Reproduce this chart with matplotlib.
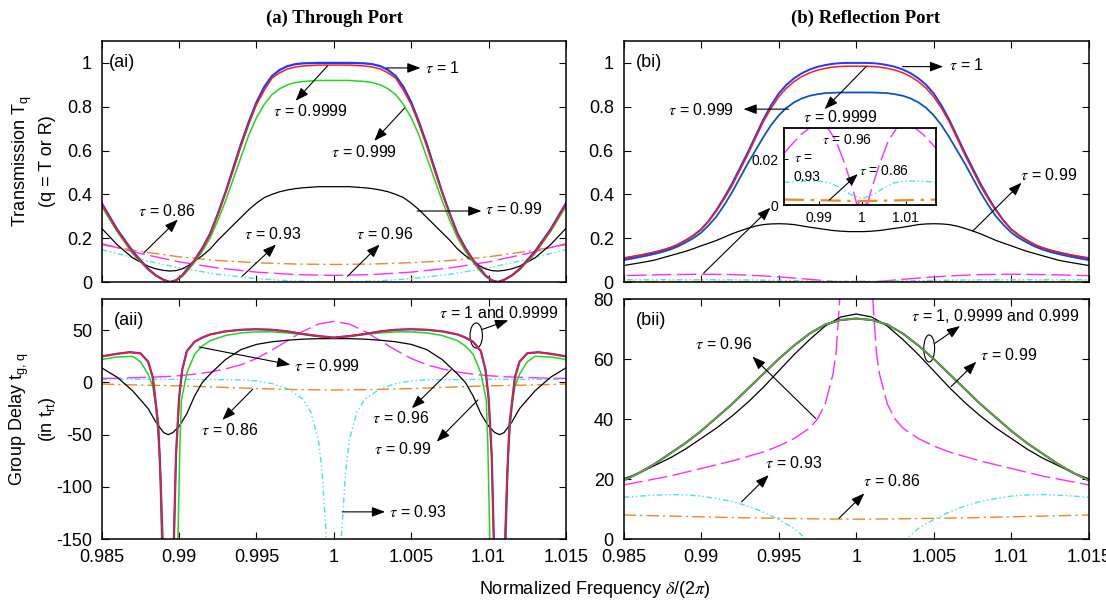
import numpy as np
import matplotlib
matplotlib.use('Agg')
import matplotlib.pyplot as plt
from matplotlib.patches import Ellipse
from matplotlib.ticker import FuncFormatter

plt.rcParams['font.family'] = ['Liberation Sans', 'DejaVu Sans']
plt.rcParams['mathtext.fontset'] = 'stix'

# ---------------- data ----------------
# (ai) through port transmission
ai_x = [0.985, 0.986, 0.987, 0.988, 0.9885, 0.989, 0.9894, 0.9898, 0.9902, 0.9906, 0.991, 0.9915,
        0.992, 0.9925, 0.993, 0.9935, 0.994, 0.9945, 0.995, 0.9955, 0.996, 0.9965, 0.997, 0.9975,
        0.998, 0.999, 1.0, 1.001, 1.002, 1.0025, 1.003, 1.0035, 1.004, 1.0045, 1.005, 1.0055, 1.006,
        1.0065, 1.007, 1.0075, 1.008, 1.0085, 1.009, 1.0094, 1.0098, 1.0102, 1.0106, 1.011, 1.0115,
        1.012, 1.013, 1.014, 1.015]
ai_t1 = [0.36, 0.24, 0.14, 0.06, 0.03, 0.01, 0.0, 0.008, 0.03, 0.065, 0.10, 0.155, 0.22, 0.31, 0.41,
         0.52, 0.63, 0.73, 0.82, 0.89, 0.94, 0.968, 0.985, 0.994, 0.998, 1.0, 1.0, 1.0, 0.998, 0.994,
         0.985, 0.968, 0.94, 0.89, 0.82, 0.73, 0.63, 0.52, 0.41, 0.31, 0.22, 0.155, 0.10, 0.065,
         0.03, 0.008, 0.0, 0.01, 0.03, 0.06, 0.14, 0.24, 0.36]
ai_t9999 = [0.355, 0.235, 0.135, 0.058, 0.028, 0.009, 0.0, 0.008, 0.029, 0.063, 0.098, 0.15, 0.215,
            0.305, 0.405, 0.51, 0.62, 0.72, 0.81, 0.875, 0.93, 0.955, 0.972, 0.981, 0.986, 0.99,
            0.99, 0.99, 0.986, 0.981, 0.972, 0.955, 0.93, 0.875, 0.81, 0.72, 0.62, 0.51, 0.405,
            0.305, 0.215, 0.15, 0.098, 0.063, 0.029, 0.008, 0.0, 0.009, 0.028, 0.058, 0.135, 0.235,
            0.355]
ai_t999 = [0.345, 0.23, 0.13, 0.055, 0.03, 0.01, 0.0, 0.007, 0.025, 0.055, 0.09, 0.14, 0.20, 0.28,
           0.37, 0.47, 0.57, 0.67, 0.75, 0.81, 0.855, 0.882, 0.90, 0.91, 0.915, 0.92, 0.92, 0.92,
           0.915, 0.91, 0.90, 0.882, 0.855, 0.81, 0.75, 0.67, 0.57, 0.47, 0.37, 0.28, 0.20, 0.14,
           0.09, 0.055, 0.025, 0.007, 0.0, 0.01, 0.03, 0.055, 0.13, 0.23, 0.345]
ai_t99 = [0.245, 0.17, 0.11, 0.072, 0.06, 0.053, 0.05, 0.052, 0.06, 0.075, 0.095, 0.12, 0.15, 0.19,
          0.225, 0.26, 0.295, 0.33, 0.36, 0.385, 0.40, 0.412, 0.42, 0.426, 0.43, 0.435, 0.435,
          0.435, 0.43, 0.426, 0.42, 0.412, 0.40, 0.385, 0.36, 0.33, 0.295, 0.26, 0.225, 0.19, 0.15,
          0.12, 0.095, 0.075, 0.06, 0.052, 0.05, 0.053, 0.06, 0.072, 0.11, 0.17, 0.245]
low_x = [0.985, 0.9875, 0.99, 0.9925, 0.995, 0.9975, 1.0, 1.0025, 1.005, 1.0075, 1.01, 1.0125, 1.015]
ai_t86 = [0.17, 0.14, 0.115, 0.098, 0.088, 0.082, 0.08, 0.082, 0.088, 0.098, 0.115, 0.14, 0.17]
ai_t96 = [0.175, 0.13, 0.092, 0.064, 0.045, 0.034, 0.03, 0.034, 0.045, 0.064, 0.092, 0.13, 0.175]
ai_t93 = [0.148, 0.103, 0.065, 0.035, 0.015, 0.004, 0.0, 0.004, 0.015, 0.035, 0.065, 0.103, 0.148]

# (bi) reflection port transmission
bi_x = np.linspace(0.985, 1.015, 61)
bi_t1 = [0.107, 0.113, 0.12, 0.127, 0.135, 0.144, 0.155, 0.17, 0.19, 0.212, 0.24, 0.28, 0.33, 0.387,
         0.45, 0.52, 0.59, 0.665, 0.74, 0.805, 0.86, 0.90, 0.93, 0.953, 0.97, 0.982, 0.99, 0.996,
         0.999, 1.0, 1.0, 1.0, 0.999, 0.996, 0.99, 0.982, 0.97, 0.953, 0.93, 0.90, 0.86, 0.805, 0.74,
         0.665, 0.59, 0.52, 0.45, 0.387, 0.33, 0.28, 0.24, 0.212, 0.19, 0.17, 0.155, 0.144, 0.135,
         0.127, 0.12, 0.113, 0.107]
bi_t9999 = [0.11, 0.116, 0.122, 0.129, 0.137, 0.146, 0.157, 0.171, 0.19, 0.212, 0.24, 0.278, 0.325,
            0.38, 0.44, 0.51, 0.58, 0.655, 0.73, 0.792, 0.845, 0.885, 0.915, 0.938, 0.955, 0.967,
            0.975, 0.981, 0.984, 0.985, 0.985, 0.985, 0.984, 0.981, 0.975, 0.967, 0.955, 0.938,
            0.915, 0.885, 0.845, 0.792, 0.73, 0.655, 0.58, 0.51, 0.44, 0.38, 0.325, 0.278, 0.24,
            0.212, 0.19, 0.171, 0.157, 0.146, 0.137, 0.129, 0.122, 0.116, 0.11]
bi_t999 = [0.10, 0.106, 0.113, 0.12, 0.128, 0.137, 0.148, 0.162, 0.18, 0.2, 0.225, 0.26, 0.30, 0.352,
           0.41, 0.475, 0.54, 0.60, 0.66, 0.715, 0.76, 0.795, 0.82, 0.838, 0.85, 0.857, 0.862,
           0.864, 0.865, 0.865, 0.865, 0.865, 0.865, 0.864, 0.862, 0.857, 0.85, 0.838, 0.82, 0.795,
           0.76, 0.715, 0.66, 0.60, 0.54, 0.475, 0.41, 0.352, 0.30, 0.26, 0.225, 0.2, 0.18, 0.162,
           0.148, 0.137, 0.128, 0.12, 0.113, 0.106, 0.10]
bi_t99 = [0.075, 0.081, 0.087, 0.093, 0.10, 0.11, 0.12, 0.13, 0.14, 0.152, 0.165, 0.177, 0.19,
          0.205, 0.22, 0.233, 0.245, 0.255, 0.262, 0.265, 0.266, 0.265, 0.262, 0.256, 0.25, 0.245,
          0.24, 0.235, 0.232, 0.23, 0.23, 0.23, 0.232, 0.235, 0.24, 0.245, 0.25, 0.256, 0.262,
          0.265, 0.266, 0.265, 0.262, 0.255, 0.245, 0.233, 0.22, 0.205, 0.19, 0.177, 0.165, 0.152,
          0.14, 0.13, 0.12, 0.11, 0.10, 0.093, 0.087, 0.081, 0.075]
bi96_x = [0.982, 0.984, 0.986, 0.988, 0.990, 0.992, 0.994, 0.996, 0.998, 0.9988, 0.9994, 1.0, 1.0006,
          1.0012, 1.002, 1.004, 1.006, 1.008, 1.010, 1.012, 1.014, 1.016, 1.018]
bi_t96 = [0.0227, 0.027, 0.031, 0.034, 0.0355, 0.034, 0.028, 0.018, 0.006, 0.0, 0.0015, 0.002, 0.0015,
          0.0, 0.006, 0.018, 0.028, 0.034, 0.0355, 0.034, 0.031, 0.027, 0.0227]
bilow_x = [0.982, 0.985, 0.9875, 0.99, 0.9925, 0.995, 0.9975, 1.0, 1.0025, 1.005, 1.0075, 1.01,
           1.0125, 1.015, 1.018]
bi_t93 = [0.0099, 0.0103, 0.0105, 0.0105, 0.0098, 0.0075, 0.0045, 0.0028, 0.0045, 0.0075, 0.0098,
          0.0105, 0.0105, 0.0103, 0.0099]
bi_t86 = [0.0024, 0.0023, 0.0022, 0.0021, 0.0020, 0.0019, 0.0018, 0.0018, 0.0018, 0.0019, 0.0020,
          0.0021, 0.0022, 0.0023, 0.0024]

# (aii) through port group delay
aii1_x = [0.985, 0.986, 0.9868, 0.9875, 0.988, 0.9883, 0.98865, 0.9888, 0.98895, 0.9891, 0.9893,
          0.9895, 0.98965, 0.9898, 0.990, 0.9902, 0.9905, 0.991, 0.9915, 0.992, 0.993, 0.994, 0.995,
          0.996, 0.997, 0.998, 0.999, 1.0, 1.001, 1.002, 1.003, 1.004, 1.005, 1.006, 1.007, 1.008,
          1.0085, 1.009, 1.0095, 1.0098, 1.010, 1.0102, 1.01035, 1.0105, 1.0107, 1.0109, 1.01105,
          1.0112, 1.01135, 1.0117, 1.012, 1.0125, 1.0132, 1.014, 1.015]
aii_g9999 = [25, 27.5, 29, 28, 20, 5, -40, -90, -160, -400, -900, -400, -160, -70, -15, 12, 30, 39,
             43, 46, 49, 50.5, 51, 50.5, 49, 46.5, 44.5, 43, 44.5, 46.5, 49, 50.5, 51, 50.5, 49, 46,
             43, 39, 30, 12, -15, -70, -160, -400, -900, -400, -160, -90, -40, 5, 20, 28, 29, 27.5, 25]
aii999_x = [0.985, 0.986, 0.987, 0.9875, 0.988, 0.9883, 0.9885, 0.98875, 0.9889, 0.9894, 0.9899,
            0.99005, 0.99015, 0.9905, 0.991, 0.9915, 0.992, 0.993, 0.994, 0.995, 0.996, 0.997, 0.998,
            0.999, 1.0, 1.001, 1.002, 1.003, 1.004, 1.005, 1.006, 1.007, 1.008, 1.0085, 1.009, 1.0095,
            1.00985, 1.00995, 1.0101, 1.0106, 1.0111, 1.01125, 1.0115, 1.0117, 1.012, 1.0125, 1.013,
            1.014, 1.015]
aii_g999 = [22, 24.5, 25, 20, 8, -4, -23, -70, -170, -500, -170, -60, -17, 9, 27, 35, 40, 45, 47.5,
            48.5, 48.5, 47.5, 46, 44, 43, 44, 46, 47.5, 48.5, 48.5, 47.5, 45, 40, 35, 27, 9, -17, -60,
            -170, -500, -170, -70, -23, -4, 8, 20, 25, 24.5, 22]
aii99_x = [0.985, 0.986, 0.987, 0.988, 0.9885, 0.989, 0.9893, 0.9896, 0.990, 0.9905, 0.991, 0.9915,
           0.992, 0.993, 0.994, 0.995, 0.996, 0.997, 0.998, 0.999, 1.0, 1.001, 1.002, 1.003, 1.004,
           1.005, 1.006, 1.007, 1.008, 1.0085, 1.009, 1.0095, 1.010, 1.0104, 1.0107, 1.011, 1.0115,
           1.012, 1.013, 1.014, 1.015]
aii_g99 = [14, 5, -8, -25, -38, -48, -50, -48, -42, -30, -13, 0, 8, 22, 31.5, 36.5, 39, 40.5, 41.5,
           42, 42, 42, 41.5, 40.5, 39, 36.5, 31.5, 22, 8, 0, -13, -30, -42, -48, -50, -48, -38, -25,
           -8, 5, 14]
aii96_x = np.linspace(0.985, 1.015, 31)
aii_g96 = [4, 4, 4.5, 5, 5.5, 6.5, 8, 10, 13, 17, 23, 31, 40, 49, 56, 58.5, 56, 49, 40, 31, 23, 17,
           13, 10, 8, 6.5, 5.5, 5, 4.5, 4, 4]
aii93_x = [0.985, 0.99, 0.994, 0.995, 0.996, 0.997, 0.998, 0.9985, 0.999, 0.99925, 0.9995, 0.9997, 1.0,
           1.0003, 1.0005, 1.00075, 1.001, 1.0015, 1.002, 1.003, 1.004, 1.005, 1.006, 1.01, 1.015]
aii_g93 = [3, 3, 2.5, 1.5, -1, -6, -16, -28, -55, -87, -145, -260, -600, -260, -145, -87, -55, -28,
           -16, -6, -1, 1.5, 2.5, 3, 3]
aii_g86 = [-1.5, -2.5, -3.2, -4.5, -5.8, -6.8, -7.2, -6.8, -5.8, -4.5, -3.2, -2.5, -1.5]

# (bii) reflection port group delay
bii_x = np.linspace(0.985, 1.015, 31)
bii_g1 = [19.5, 22, 25, 28.5, 32, 36, 40.5, 45, 50, 55, 60, 64.5, 68.5, 71.5, 73, 73.5, 73, 71.5,
          68.5, 64.5, 60, 55, 50, 45, 40.5, 36, 32, 28.5, 25, 22, 19.5]
bii_g99 = [20, 22, 24.5, 27, 30, 33.5, 37, 41, 45.5, 50.5, 56, 61.5, 66.5, 71, 74, 75, 74, 71, 66.5,
           61.5, 56, 50.5, 45.5, 41, 37, 33.5, 30, 27, 24.5, 22, 20]
bii96_x = [0.985, 0.988, 0.99, 0.992, 0.994, 0.995, 0.996, 0.997, 0.9975, 0.998, 0.9985, 0.9987,
           0.999, 0.9992, 1.0, 1.0008, 1.001, 1.0013, 1.0015, 1.002, 1.0025, 1.003, 1.004, 1.005,
           1.006, 1.008, 1.01, 1.012, 1.015]
bii_g96 = [18, 21, 23.5, 26, 29, 31, 33.5, 37, 40, 45, 55, 62, 85, 110, 150, 110, 85, 62, 55, 45, 40,
           37, 33.5, 31, 29, 26, 23.5, 21, 18]
bii_g93 = [13.9, 14.3, 14.6, 14.8, 14.7, 14.3, 13.5, 12.5, 11, 9, 6.5, 3.5, -1, -10, -25, -40, -25,
           -10, -1, 3.5, 6.5, 9, 11, 12.5, 13.5, 14.3, 14.7, 14.8, 14.6, 14.3, 13.9]
bii_g86 = [8, 7.7, 7.4, 7.1, 6.9, 6.7, 6.6, 6.7, 6.9, 7.1, 7.4, 7.7, 8]

xticks = [0.985, 0.99, 0.995, 1.0, 1.005, 1.01, 1.015]

# ---------------- styles ----------------
BLUE, RED, GREEN = '#2038ff', '#ff1a1a', '#1ed81e'
MAG, CYAN, ORNG = '#ff2cff', '#4ae0ec', '#e8882a'
LS86 = (0, (9, 3, 1.5, 3))
LS96 = (0, (14, 4))
LS93 = (0, (4, 2, 1, 2, 1, 2))
ARROW = '-|>,head_length=0.8,head_width=0.3'

W, H = 1106.0, 602.0
fig = plt.figure(figsize=(W / 100, H / 100), dpi=100)


def box(l, t, r, b):
    return [l / W, 1 - b / H, (r - l) / W, (b - t) / H]


ax_ai = fig.add_axes(box(101.7, 41, 566, 282))
ax_aii = fig.add_axes(box(101.7, 299, 566, 539))
ax_bi = fig.add_axes(box(623.5, 41, 1089, 282))
ax_bii = fig.add_axes(box(623.5, 299, 1089, 539))

fmt = FuncFormatter(lambda v, p: '%g' % round(v, 4))


def style(ax, ylim, yticks, xlabels):
    ax.set_xlim(0.985, 1.015)
    ax.set_ylim(*ylim)
    ax.set_xticks(xticks)
    ax.set_yticks(yticks)
    ax.xaxis.set_major_formatter(fmt)
    ax.yaxis.set_major_formatter(fmt)
    ax.tick_params(direction='in', top=True, right=True, length=5, width=0.8,
                   labelsize=13, pad=7, labelbottom=xlabels)
    for s in ax.spines.values():
        s.set_linewidth(1.1)


def note(ax, text, head, tail, tpos=None, ha='center', fs=11.5):
    ax.annotate('', xy=head, xytext=tail,
                arrowprops=dict(arrowstyle=ARROW, color='k', lw=0.8, shrinkA=0, shrinkB=0,
                                mutation_scale=10))
    if text:
        ax.text(tpos[0], tpos[1], text, ha=ha, va='center', fontsize=fs)


# ---- (ai) ----
ax = ax_ai
ax.plot(low_x, ai_t86, color=ORNG, lw=1.0, ls=LS86)
ax.plot(low_x, ai_t96, color=MAG, lw=1.0, ls=LS96)
ax.plot(low_x, ai_t93, color=CYAN, lw=1.0, ls=LS93)
ax.plot(ai_x, ai_t99, color='k', lw=0.9)
ax.plot(ai_x, ai_t999, color=GREEN, lw=1.1)
ax.plot(ai_x, ai_t1, color=BLUE, lw=1.6)
ax.plot(ai_x, ai_t9999, color=RED, lw=1.1)
style(ax, (0, 1.1), [0, 0.2, 0.4, 0.6, 0.8, 1], False)
ax.text(0.015, 0.91, '(ai)', transform=ax.transAxes, fontsize=13, va='center')
note(ax, r'$\tau$ = 1', (1.0056, 0.977), (1.0034, 0.977), (1.0059, 0.977), ha='left')
note(ax, r'$\tau$ = 0.9999', (0.99753, 0.827), (0.99961, 0.988), (0.99846, 0.78))
note(ax, r'$\tau$ = 0.999', (1.00261, 0.644), (1.00457, 0.794), (1.00192, 0.595))
note(ax, r'$\tau$ = 0.99', (1.00954, 0.324), (1.00538, 0.324), (1.00977, 0.335), ha='left')
note(ax, r'$\tau$ = 0.86', (0.98992, 0.285), (0.98772, 0.133), (0.98922, 0.324))
note(ax, r'$\tau$ = 0.93', (0.99626, 0.171), (0.99407, 0.026), (0.99603, 0.217))
note(ax, r'$\tau$ = 0.96', (1.00296, 0.171), (1.00088, 0.026), (1.0033, 0.217))

# ---- (bi) ----
ax = ax_bi
ax.plot(bi96_x, bi_t96, color=MAG, lw=1.0, ls=LS96)
ax.plot(bilow_x, bi_t93, color=CYAN, lw=1.0, ls=LS93)
ax.plot(bilow_x, bi_t86, color=ORNG, lw=1.0, ls=LS86)
ax.plot(bi_x, bi_t99, color='k', lw=0.9)
ax.plot(bi_x, bi_t999, color=GREEN, lw=1.3)
ax.plot(bi_x, bi_t999, color=BLUE, lw=1.0)
ax.plot(bi_x, bi_t1, color=BLUE, lw=1.4)
ax.plot(bi_x, bi_t9999, color=RED, lw=1.1)
style(ax, (0, 1.1), [0, 0.2, 0.4, 0.6, 0.8, 1], False)
ax.text(0.027, 0.91, '(bi)', transform=ax.transAxes, fontsize=13, va='center')
note(ax, r'$\tau$ = 1', (1.0056, 0.983), (1.00297, 0.983), (1.006, 0.99), ha='left')
note(ax, r'$\tau$ = 0.9999', (0.99796, 0.789), (1.00064, 0.983), (0.99901, 0.754))
note(ax, r'$\tau$ = 0.999', (0.99273, 0.789), (0.99564, 0.789), (0.99215, 0.786), ha='right')
note(ax, r'$\tau$ = 0.99', (1.01065, 0.453), (1.0075, 0.232), (1.01239, 0.49))
note(ax, None, (0.99447, 0.339), (0.99017, 0.041))

# inset
ins = fig.add_axes(box(784, 127.5, 936, 205))
ins.plot(bi96_x, bi_t96, color=MAG, lw=1.0, ls=LS96)
ins.plot(bilow_x, bi_t93, color=CYAN, lw=1.0, ls=LS93)
ins.plot(bilow_x, bi_t86, color=ORNG, lw=1.6, ls=LS86)
ins.set_xlim(0.982, 1.017)
ins.set_ylim(0, 0.034)
ins.set_xticks([0.99, 1.0, 1.01])
ins.set_yticks([0, 0.02])
ins.xaxis.set_major_formatter(fmt)
ins.yaxis.set_major_formatter(fmt)
ins.tick_params(direction='in', length=3, width=0.7, labelsize=10, pad=4)
for s in ins.spines.values():
    s.set_linewidth(1.3)
ins.text(0.9965, 0.0285, r'$\tau$ = 0.96', ha='center', va='center', fontsize=10)
ins.text(0.9843, 0.0165, '$\\tau$ =\n0.93', ha='left', va='center', fontsize=10, linespacing=1.4)
ins.annotate('', xy=(0.9990, 0.0136), xytext=(0.9924, 0.0021),
             arrowprops=dict(arrowstyle=ARROW, color='k', lw=0.8, shrinkA=0, shrinkB=0,
                             mutation_scale=9))
ins.text(0.9992, 0.0151, r'$\tau$ = 0.86', ha='left', va='center', fontsize=10)

# ---- (aii) ----
ax = ax_aii
ax.plot(low_x, aii_g86, color=ORNG, lw=1.0, ls=LS86)
ax.plot(aii96_x, aii_g96, color=MAG, lw=1.0, ls=LS96)
ax.plot(aii93_x, aii_g93, color=CYAN, lw=1.0, ls=LS93)
ax.plot(aii99_x, aii_g99, color='k', lw=0.9)
ax.plot(aii999_x, aii_g999, color=GREEN, lw=1.1)
ax.plot(aii1_x, aii_g9999, color=BLUE, lw=1.6)
ax.plot(aii1_x, aii_g9999, color=RED, lw=1.1)
style(ax, (-150, 80), [-150, -100, -50, 0, 50], True)
ax.text(0.026, 0.91, '(aii)', transform=ax.transAxes, fontsize=13, va='center')
ax.text(1.00677, 66.7, r'$\tau$ = 1 and 0.9999', ha='left', va='center', fontsize=11.5)
ax.add_patch(Ellipse((1.0092, 45), 0.0008, 24, fill=False, ec='k', lw=0.8))
note(ax, None, (1.01127, 59.6), (1.00954, 50.6))
note(ax, r'$\tau$ = 0.999', (0.99719, 17), (0.9913, 34), (0.99742, 16), ha='left')
note(ax, r'$\tau$ = 0.86', (0.9928, -35.9), (0.99476, -6.4), (0.99326, -45.5))
note(ax, r'$\tau$ = 0.96', (1.00504, -24.7), (1.00758, 12.2), (1.00434, -34.3))
note(ax, r'$\tau$ = 0.99', (1.00665, -56.7), (1.00931, -16.7), (1.00446, -64))
note(ax, r'$\tau$ = 0.93', (1.00331, -124), (1.00054, -124), (1.00354, -124), ha='left')

# ---- (bii) ----
ax = ax_bii
ax.plot(low_x, bii_g86, color=ORNG, lw=1.0, ls=LS86)
ax.plot(bii_x, bii_g93, color=CYAN, lw=1.0, ls=LS93)
ax.plot(bii96_x, bii_g96, color=MAG, lw=1.0, ls=LS96)
ax.plot(bii_x, bii_g99, color='k', lw=0.9)
ax.plot(bii_x, bii_g1, color=BLUE, lw=1.5)
ax.plot(bii_x, bii_g1, color=RED, lw=1.2)
ax.plot(bii_x, bii_g1, color=GREEN, lw=0.9)
style(ax, (0, 80), [0, 20, 40, 60, 80], True)
ax.text(0.027, 0.91, '(bii)', transform=ax.transAxes, fontsize=13, va='center')
ax.text(1.00355, 74.3, r'$\tau$ = 1, 0.9999 and 0.999', ha='left', va='center', fontsize=11.5)
ax.add_patch(Ellipse((1.0047, 63.5), 0.0007, 9, fill=False, ec='k', lw=0.8))
note(ax, None, (1.00669, 71), (1.00506, 65.2))
note(ax, r'$\tau$ = 0.99', (1.00774, 59.1), (1.00611, 50.8), (1.00797, 61.3), ha='left')
note(ax, r'$\tau$ = 0.96', (0.99331, 60.8), (0.99738, 40.2), (0.99145, 65))
note(ax, r'$\tau$ = 0.93', (0.99436, 21.3), (0.99261, 12.4), (0.99599, 25.2))
note(ax, r'$\tau$ = 0.86', (1.00052, 15.2), (0.99889, 6.9), (1.00227, 19.3))

# ---- labels ----
fig.text(334 / W, 1 - 18 / H, '(a) Through Port', ha='center', va='center', fontsize=13.5,
         family='Liberation Serif', weight='bold')
fig.text(866 / W, 1 - 18 / H, '(b) Reflection Port', ha='center', va='center', fontsize=13.5,
         family='Liberation Serif', weight='bold')
fig.text(33 / W, 1 - 161.5 / H, 'Transmission $\\mathregular{T_q}$\n(q = T or R)', rotation=90,
         ha='center', va='center', fontsize=13, linespacing=1.4)
fig.text(33 / W, 1 - 419 / H, 'Group Delay $\\mathregular{t_{g,\\,q}}$\n(in $\\mathregular{t_{rt}}$)',
         rotation=90, ha='center', va='center', fontsize=13, linespacing=1.4)
fig.text(595 / W, 1 - 589 / H, r'Normalized Frequency $\delta$/(2$\pi$)', ha='center', va='center',
         fontsize=13)

fig.savefig('out.png', dpi=100)
